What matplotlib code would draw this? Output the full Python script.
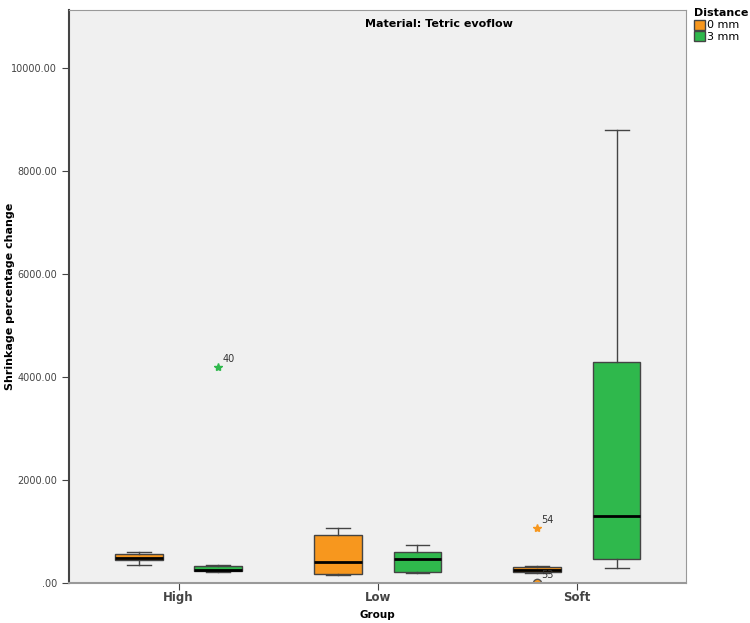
import matplotlib.pyplot as plt
from matplotlib.patches import Patch

groups = ["High", "Low", "Soft"]
distances = ["0 mm", "3 mm"]
colors = {"0 mm": "#F7971E", "3 mm": "#2FB84C"}

# five-number summaries: whislo, q1, med, q3, whishi
stats_0mm = [
    [360, 440, 490, 570, 600],
    [155, 175, 414, 932, 1068],
    [200, 210, 250, 320, 336],
]
stats_3mm = [
    [210, 230, 250, 340, 355],
    [200, 214, 472, 602, 738],
    [291, 472, 1301, 4298, 8800],
]
# outliers: (group index, distance, value, case label, extreme?)
outliers = [
    (0, "3 mm", 4200, "40", True),
    (2, "0 mm", 1068, "54", True),
    (2, "0 mm", 0, "53", False),
]

fig = plt.figure(figsize=(7.5, 6.23), dpi=100)
ax = fig.add_axes([0.092, 0.064, 0.823, 0.92])
ax.set_facecolor("#F0F0F0")

offsets = {"0 mm": -0.2, "3 mm": 0.2}
for dist, allstats in (("0 mm", stats_0mm), ("3 mm", stats_3mm)):
    bstats = []
    for s in allstats:
        bstats.append(dict(whislo=s[0], q1=s[1], med=s[2], q3=s[3], whishi=s[4], fliers=[]))
    pos = [i + offsets[dist] for i in range(len(groups))]
    ax.bxp(bstats, positions=pos, widths=0.24, patch_artist=True, showfliers=False,
           boxprops=dict(facecolor=colors[dist], edgecolor="#444444", linewidth=1),
           medianprops=dict(color="black", linewidth=2),
           whiskerprops=dict(color="#444444", linewidth=1),
           capprops=dict(color="#444444", linewidth=1),
           capwidths=0.12)

for gi, dist, val, lab, extreme in outliers:
    x = gi + offsets[dist]
    if extreme:
        ax.plot(x, val, marker="*", color=colors[dist], markersize=6, linestyle="none")
        ax.text(x + 0.02, val + 60, lab, fontsize=7, color="#333333", ha="left", va="bottom")
    else:
        ax.plot(x, val, marker="o", markerfacecolor=colors[dist], markeredgecolor="#555555",
                markersize=6, linestyle="none")
        ax.text(x + 0.02, val + 60, lab, fontsize=7, color="#333333", ha="left", va="bottom")

ax.set_xlim(-0.55, 2.55)
ax.set_ylim(0, 11130)
ax.set_xticks(range(len(groups)))
ax.set_xticklabels(groups, fontsize=8.5, fontweight="bold")
yt = [0, 2000, 4000, 6000, 8000, 10000]
ax.set_yticks(yt)
ax.set_yticklabels([".00"] + [f"{v:.2f}" for v in yt[1:]], fontsize=7, color="#333333")
ax.set_xlabel("Group", fontsize=7.5, fontweight="bold")
ax.set_ylabel("Shrinkage percentage change", fontsize=8, fontweight="bold")
ax.xaxis.set_label_coords(0.5, -0.047)
ax.yaxis.set_label_coords(-0.088, 0.5)

for side in ("top", "right"):
    ax.spines[side].set_color("#999999")
ax.spines["left"].set_color("#444444")
ax.spines["left"].set_linewidth(1.5)
ax.spines["bottom"].set_color("#999999")
ax.spines["bottom"].set_linewidth(1.5)
ax.tick_params(axis="both", colors="#444444", length=5)
ax.tick_params(axis="x", pad=1)

ax.text(0.6, 0.985, "Material: Tetric evoflow", transform=ax.transAxes, ha="center", va="top",
        fontsize=8, fontweight="bold")

handles = [Patch(facecolor=colors[d], edgecolor="#444444", label=d) for d in distances]
leg = fig.legend(handles=handles, title="Distance", loc="upper left", bbox_to_anchor=(0.922, 0.99),
                 frameon=False, fontsize=8, title_fontsize=8, handlelength=1.0, handleheight=1.0,
                 handletextpad=0.2, labelspacing=0.1, borderaxespad=0, borderpad=0.2)
leg.get_title().set_fontweight("bold")
leg._legend_box.align = "left"

fig.savefig("out.png", dpi=100, facecolor="white")
